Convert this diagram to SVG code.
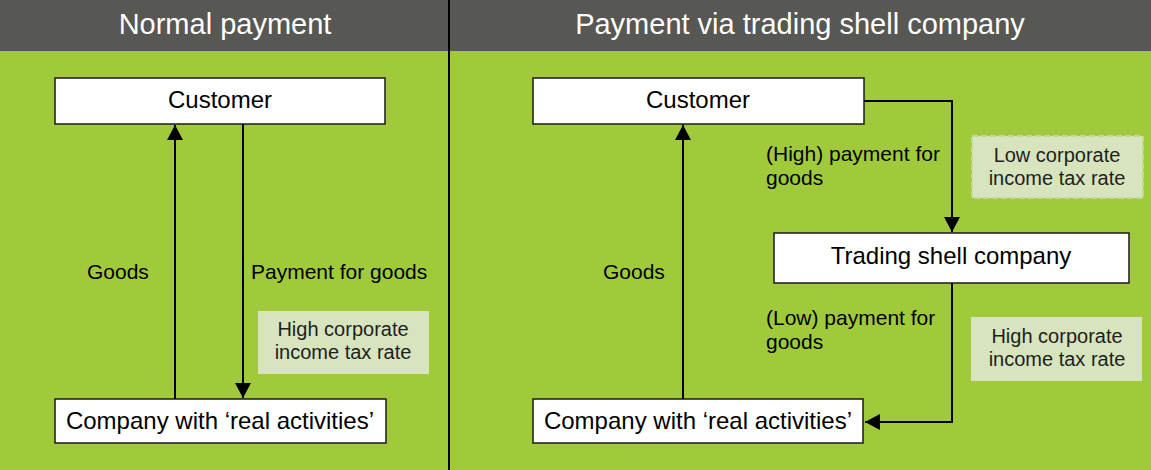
<svg xmlns="http://www.w3.org/2000/svg" width="1151" height="470" viewBox="0 0 1151 470">
<style>
.node{fill:#fff;stroke:#1a1a1a;stroke-width:1.5}
.nt{font-family:"Liberation Sans",Arial,sans-serif;font-size:24px;fill:#000;text-anchor:middle}
.lbl{font-family:"Liberation Sans",Arial,sans-serif;font-size:21px;fill:#000}
.tax{fill:#d7e4bd}
.taxd{fill:#d7e4bd;stroke:#c3d99a;stroke-width:2;stroke-dasharray:6 3}
.tt{font-family:"Liberation Sans",Arial,sans-serif;font-size:20px;fill:#1e1e1e;text-anchor:middle}
.title{font-family:"Liberation Sans",Arial,sans-serif;font-size:29px;fill:#fff;text-anchor:middle}
.c{fill:none;stroke:#000;stroke-width:2}
</style>
<defs>
<marker id="ah" markerUnits="userSpaceOnUse" markerWidth="16" markerHeight="16" viewBox="0 0 14 15" refX="14" refY="7.5" orient="auto">
<path d="M0,0 L14,7.5 L0,15 z" fill="#000"/>
</marker>
</defs>
<rect x="0" y="0" width="1151" height="470" fill="#a0ca3b"/>
<rect x="0" y="0" width="1151" height="51" fill="#575753"/>
<line x1="449" y1="0" x2="449" y2="470" stroke="#000" stroke-width="2"/>
<g id="title-left"><text class="title" x="225" y="34">Normal payment</text></g>
<g id="title-right"><text class="title" x="800" y="34">Payment via trading shell company</text></g>

<g id="connectors">
<line class="c" x1="175" y1="399" x2="175" y2="125" marker-end="url(#ah)"/>
<line class="c" x1="243" y1="124" x2="243" y2="398" marker-end="url(#ah)"/>
<line class="c" x1="683" y1="399" x2="683" y2="125" marker-end="url(#ah)"/>
<polyline class="c" points="864,101 952,101 952,232" marker-end="url(#ah)"/>
<polyline class="c" points="952,283 952,422 865,422" marker-end="url(#ah)"/>
</g>

<g id="left-customer"><rect class="node" x="55" y="78" width="330" height="46"/><text class="nt" x="220" y="108">Customer</text></g>
<g id="left-company"><rect class="node" x="55" y="399" width="331" height="44"/><text class="nt" x="220" y="429">Company with ‘real activities’</text></g>
<g id="left-goods"><text class="lbl" x="87" y="279">Goods</text></g>
<g id="left-payment"><text class="lbl" x="251" y="279">Payment for goods</text></g>
<g id="left-tax"><rect class="tax" x="258" y="311" width="171" height="63"/><text class="tt" x="343" y="336">High corporate</text><text class="tt" x="343" y="359">income tax rate</text></g>

<g id="right-customer"><rect class="node" x="533" y="78" width="331" height="46"/><text class="nt" x="698" y="108">Customer</text></g>
<g id="right-trading"><rect class="node" x="774" y="233" width="355" height="50"/><text class="nt" x="951" y="264">Trading shell company</text></g>
<g id="right-company"><rect class="node" x="533" y="399" width="330" height="44"/><text class="nt" x="698" y="429">Company with ‘real activities’</text></g>
<g id="right-goods"><text class="lbl" x="603" y="279">Goods</text></g>
<g id="right-high-payment"><text class="lbl" x="766" y="161">(High) payment for</text><text class="lbl" x="766" y="185">goods</text></g>
<g id="right-low-payment"><text class="lbl" x="766" y="325">(Low) payment for</text><text class="lbl" x="766" y="349">goods</text></g>
<g id="right-low-tax"><rect class="taxd" x="972" y="136" width="171" height="62"/><text class="tt" x="1057" y="162">Low corporate</text><text class="tt" x="1057" y="185">income tax rate</text></g>
<g id="right-high-tax"><rect class="tax" x="971" y="317" width="171" height="64"/><text class="tt" x="1057" y="343">High corporate</text><text class="tt" x="1057" y="366">income tax rate</text></g>
</svg>
